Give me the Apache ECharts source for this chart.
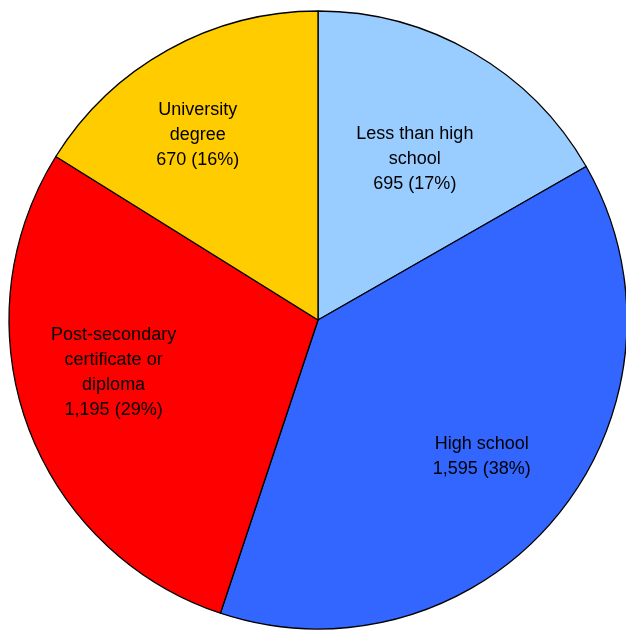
<!DOCTYPE html>
<html>
<head>
<meta charset="utf-8">
<script src="https://cdn.jsdelivr.net/npm/echarts@6/dist/echarts.min.js"></script>
<style>
  html, body { margin: 0; padding: 0; background: #fff; }
  #chart { width: 626px; height: 630px; }
</style>
</head>
<body>
<div id="chart"></div>
<script>
// education levels, clockwise from 12 o'clock
var categories = ['Less than high\nschool', 'High school', 'Post-secondary\ncertificate or\ndiploma', 'University\ndegree'];
var counts = [695, 1595, 1195, 670];
var colorList = ['#99CCFF', '#3366FF', '#FF0000', '#FFCC00'];

var chart = echarts.init(document.getElementById('chart'), null, { renderer: 'canvas' });

// nudge each label a little like the original placement
// horizontal: padding [top, right, bottom, left]; vertical: empty spacer line above (+) or below (-)
var labelPad = [[0, 20, 0, 0], [0, 2, 0, 0], [0, 8, 0, 0], [0, 34, 0, 0]];
var labelGap = [46, 4, -40, 2];

var pieData = categories.map(function (name, i) {
    return { name: name, value: counts[i], itemStyle: { color: colorList[i] } };
});
var labelData = categories.map(function (name, i) {
    return { name: name, value: counts[i], label: { padding: labelPad[i] } };
});

function fmt(n) {
    return n.toLocaleString('en-US');
}

var option = {
    animation: false,
    series: [{
        type: 'pie',
        center: [318, 320],
        radius: [0, 309],
        startAngle: 90,
        clockwise: true,
        label: { show: false },
        labelLine: { show: false },
        itemStyle: { borderColor: '#000', borderWidth: 1.3 },
        emphasis: { disabled: true },
        data: pieData
    }, {
        // transparent copy, only used to place labels further out
        type: 'pie',
        center: [318, 320],
        radius: [0, 420],
        startAngle: 90,
        clockwise: true,
        silent: true,
        itemStyle: { color: 'rgba(0,0,0,0)', borderWidth: 0 },
        label: {
            show: true,
            position: 'inside',
            fontFamily: 'Liberation Sans, Arial, sans-serif',
            fontSize: 18,
            lineHeight: 25,
            color: '#000',
            align: 'center',
            formatter: function (p) {
                var gap = labelGap[p.dataIndex];
                var txt = p.name + '\n' + fmt(p.value) + ' (' + Math.round(p.percent) + '%)';
                if (gap > 0) return '{g' + p.dataIndex + '| }\n' + txt;
                if (gap < 0) return txt + '\n{g' + p.dataIndex + '| }';
                return txt;
            },
            rich: {
                g0: { fontSize: 1, lineHeight: Math.abs(labelGap[0]) },
                g1: { fontSize: 1, lineHeight: Math.abs(labelGap[1]) },
                g2: { fontSize: 1, lineHeight: Math.abs(labelGap[2]) },
                g3: { fontSize: 1, lineHeight: Math.abs(labelGap[3]) }
            }
        },
        labelLine: { show: false },
        data: labelData
    }]
};
chart.setOption(option);
</script>
</body>
</html>
